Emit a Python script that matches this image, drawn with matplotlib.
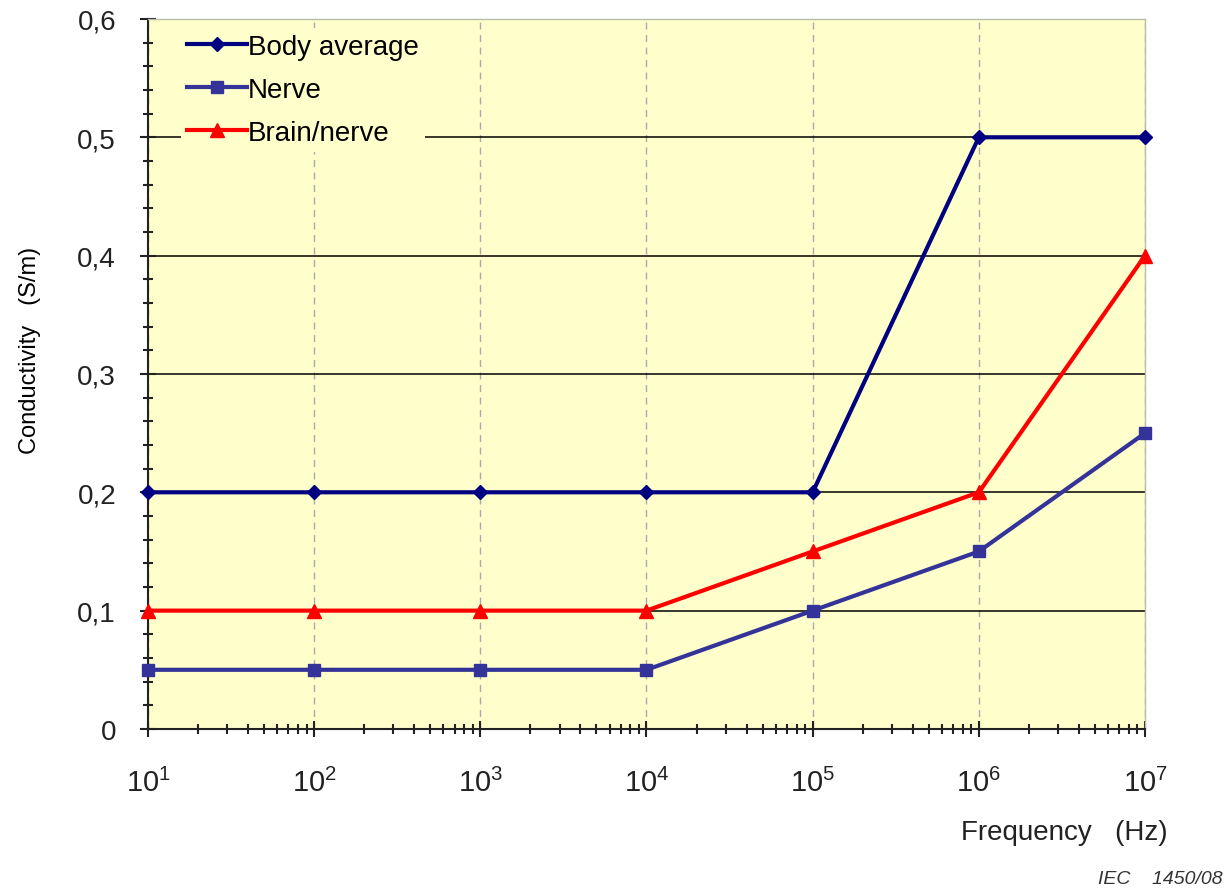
import numpy as np
import matplotlib.pyplot as plt
from matplotlib.ticker import FixedLocator, FuncFormatter, NullFormatter

# data
freq = [1e1, 1e2, 1e3, 1e4, 1e5, 1e6, 1e7]
body_avg = [0.2, 0.2, 0.2, 0.2, 0.2, 0.5, 0.5]
nerve = [0.05, 0.05, 0.05, 0.05, 0.1, 0.15, 0.25]
brain_nerve = [0.1, 0.1, 0.1, 0.1, 0.15, 0.2, 0.4]
y_ticks = [0, 0.1, 0.2, 0.3, 0.4, 0.5, 0.6]
x_ticks = [1e1, 1e2, 1e3, 1e4, 1e5, 1e6, 1e7]

plt.rcParams['font.family'] = ['Liberation Sans', 'DejaVu Sans']

fig = plt.figure(figsize=(12.3, 8.95), dpi=100)
ax = fig.add_axes([0.1203, 0.1844, 0.8106, 0.7933])
ax.set_facecolor('#ffffcc')

ax.plot(freq, body_avg, color='#000080', lw=3, marker='D', ms=7, label='Body average', zorder=4, clip_on=False)
ax.plot(freq, nerve, color='#333399', lw=3, marker='s', ms=9, label='Nerve', zorder=4, clip_on=False)
ax.plot(freq, brain_nerve, color='#ff0000', lw=3, marker='^', ms=10, label='Brain/nerve', zorder=4, clip_on=False)

ax.set_xscale('log')
ax.set_xlim(1e1, 1e7)
ax.set_ylim(0, 0.6)

# grid: black horizontal, grey dashed vertical
ax.set_axisbelow(True)
ax.yaxis.set_major_locator(FixedLocator(y_ticks))
ax.yaxis.set_minor_locator(FixedLocator(np.arange(0, 0.61, 0.02)))
ax.grid(True, axis='y', which='major', color='black', lw=1.1)
ax.grid(True, axis='x', which='major', color='#aaaaaa', lw=1, ls=(0, (5, 4)))

ax.yaxis.set_major_formatter(FuncFormatter(lambda v, p: '0' if v == 0 else f'{v:.1f}'.replace('.', ',')))
ax.xaxis.set_major_locator(FixedLocator(x_ticks))
minors = [m * 10.0 ** e for e in range(1, 7) for m in range(2, 10)]
ax.xaxis.set_minor_locator(FixedLocator(minors))
ax.xaxis.set_minor_formatter(NullFormatter())
ax.xaxis.set_major_formatter(FuncFormatter(lambda v, p: r'$\mathregular{10^{%d}}$' % round(np.log10(v))))

ax.tick_params(axis='both', which='major', direction='inout', length=12, width=1.5, colors='#222222')
ax.tick_params(axis='both', which='minor', direction='inout', length=7, width=1.5, colors='#222222')
ax.tick_params(axis='x', which='major', pad=22, labelsize=21)
ax.tick_params(axis='y', which='major', pad=17, labelsize=20)

for s in ['left', 'bottom']:
    ax.spines[s].set_color('#222222')
    ax.spines[s].set_linewidth(1.5)
for s in ['top', 'right']:
    ax.spines[s].set_color('#bbbbaa')
    ax.spines[s].set_linewidth(1)

ax.set_ylabel('Conductivity   (S/m)', fontsize=17)
ax.yaxis.set_label_coords(-0.107, 0.535)
fig.text(0.9496, 0.055, 'Frequency   (Hz)', fontsize=20, ha='right', va='bottom', color='#222222')
fig.text(0.994, 0.008, 'IEC    1450/08', fontsize=14, ha='right', va='bottom', style='italic', color='#333333')

leg = ax.legend(loc='upper left', bbox_to_anchor=(0.028, 0.995), fontsize=20, frameon=True,
                handlelength=2.15, handletextpad=0.05, borderaxespad=0.2, labelspacing=0.62,
                borderpad=0.2)
leg.get_frame().set_facecolor('#ffffcc')
leg.get_frame().set_edgecolor('none')
leg.get_frame().set_alpha(1)
leg.set_zorder(5)

fig.savefig('out.png', dpi=100)
